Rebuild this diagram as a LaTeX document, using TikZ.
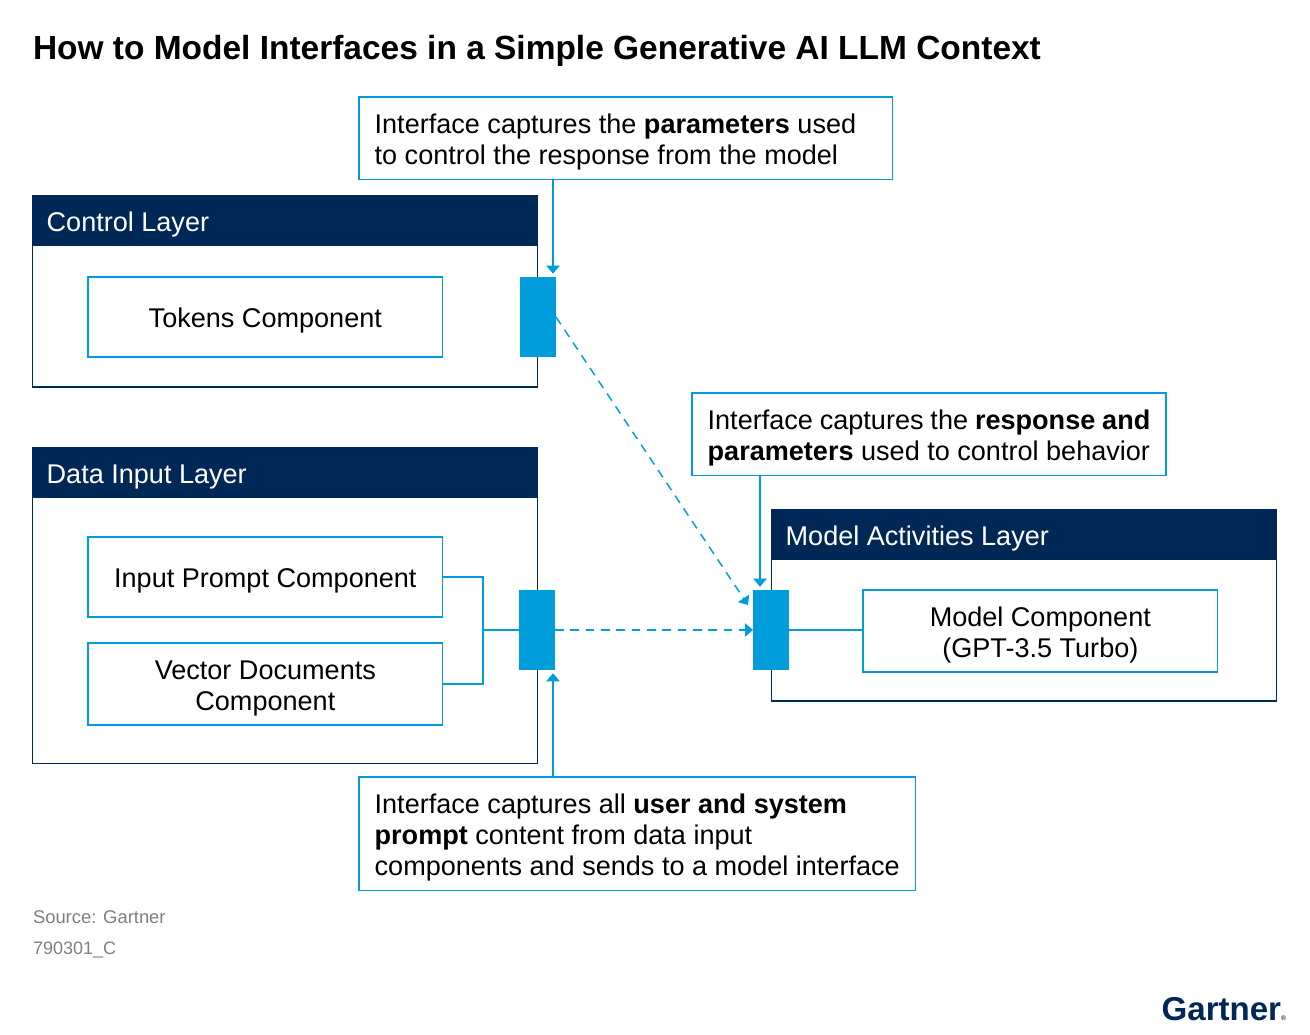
\documentclass[tikz,border=0pt]{standalone}
\usepackage{fontspec}
\setmainfont{Liberation Sans}
\usetikzlibrary{arrows.meta, positioning}
\definecolor{gnavy}{HTML}{002856}
\definecolor{gblue}{HTML}{009CDC}
\definecolor{ggray}{HTML}{7F7F7F}
\newcommand{\firstline}{\rule{0pt}{20.5pt}}

\begin{document}
\begin{tikzpicture}[
    x=0.75pt, y=-0.75pt,
    every node/.style={outer sep=0pt, font=\fontsize{20.3}{23.25}\selectfont},
    headbox/.style={rectangle, fill=gnavy, text=white, minimum width=379.5pt,
                    minimum height=38pt, inner xsep=11pt, inner ysep=0pt,
                    anchor=north west, text width=357.5pt, align=flush left,
                    execute at begin node=\firstline},
    layerbox/.style={rectangle, draw=gnavy, line width=1.1pt, minimum width=379pt},
    compbox/.style={rectangle, draw=gblue, line width=1.1pt, text width=266pt,
                    anchor=north west, align=flush center, inner sep=0pt,
                    execute at begin node=\firstline},
    notebox/.style={rectangle, draw=gblue, line width=1.1pt, anchor=north west,
                    align=flush left, inner xsep=11.75pt, inner ysep=0pt,
                    execute at begin node=\firstline},
    iface/.style={rectangle, fill=gblue, minimum width=27pt, minimum height=60pt,
                  anchor=north west, inner sep=0pt},
    arr/.style={-{Triangle[length=6pt,width=10pt]}, line width=1.1pt, draw=gblue},
    dasharr/.style={arr, dash pattern=on 6.5pt off 5pt},
    wire/.style={line width=1.1pt, draw=gblue}
]
\useasboundingbox (0,0) rectangle (1310,1035);

\node[anchor=base west, inner sep=0pt, font=\fontsize{25.1}{30}\selectfont\bfseries] (title) at (33,59)
    {How to Model Interfaces in a Simple Generative AI LLM Context};

% layers
\node[headbox] (headControl) at (32,195) {Control Layer};
\node[layerbox, minimum height=106pt, below=0pt of headControl] (layerControl) {};
\node[headbox] (headData) at (32,447) {Data Input Layer};
\node[layerbox, minimum height=199.5pt, below=0pt of headData] (layerData) {};
\node[headbox] (headModel) at (771,509) {Model Activities Layer};
\node[layerbox, minimum height=106pt, below=0pt of headModel] (layerModel) {};

% components
\node[compbox, minimum height=60pt] (tokens) at (88,277) {Tokens Component};
\node[compbox, minimum height=60pt] (prompt) at (88,537) {Input Prompt Component};
\node[compbox, minimum height=61.5pt] (vectors) at (88,643) {Vector Documents\\Component};
\node[compbox, minimum height=61.5pt] (model) at (863,590) {Model Component\\(GPT-3.5 Turbo)};

% interfaces
\node[iface] (ifControl) at (520,277) {};
\node[iface] (ifData) at (519,590) {};
\node[iface] (ifModel) at (753,590) {};

% notes
\node[notebox, text width=376.5pt, minimum height=62pt] (noteParams) at (359,97)
    {Interface captures the \textbf{parameters} used\\to control the response from the model};
\node[notebox, text width=332pt, minimum height=62pt] (noteResponse) at (692,393)
    {Interface captures the \textbf{response and}\\\textbf{parameters} used to control behavior};
\node[notebox, text width=394pt, minimum height=85pt] (notePrompt) at (359,777)
    {Interface captures all \textbf{user and system}\\\textbf{prompt} content from data input\\components and sends to a model interface};

% footer
\node[anchor=base west, inner sep=0pt, text=ggray, font=\fontsize{13.8}{16}\selectfont] (source) at (33,923) {Source: Gartner};
\node[anchor=base west, inner sep=0pt, text=ggray, font=\fontsize{13.5}{16}\selectfont] (docid) at (33,954) {790301\_C};
\node[anchor=base east, inner sep=0pt, text=gnavy, font=\fontsize{24.8}{30}\selectfont\bfseries] (logo) at (1286,1020) {Gartner\raisebox{0pt}{\fontsize{5}{6}\selectfont\textregistered}};

% connectors
\coordinate (xParams) at (553,0);
\coordinate (xResponse) at (760,0);
\coordinate (junction) at (483,630);
\coordinate (diagEnd) at (748,605);
\draw[arr, shorten >=2.5pt] (noteParams.south -| xParams) -- (ifControl.north -| xParams);
\draw[arr, shorten >=2.5pt] (noteResponse.south -| xResponse) -- (ifModel.north -| xResponse);
\draw[arr, shorten >=2.5pt] (notePrompt.north -| xParams) -- (ifData.south -| xParams);
\draw[wire] (prompt.east) -| (junction);
\draw[wire] (vectors.east) -| (junction);
\draw[wire] (junction) -- (ifData.west);
\draw[wire] (ifModel.east) -- (ifModel.east -| model.west);
\draw[dasharr] (ifData.east) -- (ifModel.west);
\draw[dasharr] (ifControl.east) -- (diagEnd);
\end{tikzpicture}
\end{document}
